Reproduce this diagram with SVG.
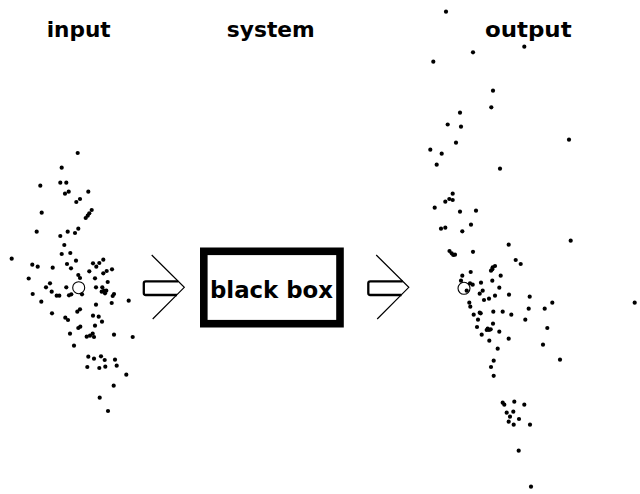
<svg xmlns="http://www.w3.org/2000/svg" width="640" height="494" viewBox="0 0 640 494">
<style>
.t{font-family:"DejaVu Sans","Liberation Sans",sans-serif;font-weight:bold;font-size:22px;fill:#000;text-anchor:middle}
.d circle{fill:#000}
.o{fill:none;stroke:#000;stroke-width:1.1}
.bar{fill:none;stroke:#000;stroke-width:2.3;stroke-linejoin:round}
.chev{fill:none;stroke:#000;stroke-width:1.2}
</style>
<rect width="640" height="494" fill="#fff"/>
<g id="input">
<text class="t" x="78.7" y="36.7" textLength="64" lengthAdjust="spacingAndGlyphs">input</text>
<g class="d">
<circle cx="77.7" cy="153" r="2.1"/><circle cx="61.7" cy="167.7" r="2.1"/><circle cx="40.3" cy="185.7" r="2.1"/><circle cx="60.3" cy="182.7" r="2.1"/><circle cx="66.3" cy="182.7" r="2.1"/><circle cx="65" cy="193.7" r="2.1"/><circle cx="68.7" cy="191.7" r="2.1"/><circle cx="88.3" cy="191.7" r="2.1"/><circle cx="76.3" cy="202" r="2.1"/><circle cx="80" cy="199" r="2.1"/><circle cx="41.7" cy="212.7" r="2.1"/><circle cx="91.7" cy="210" r="2.1"/><circle cx="89.3" cy="213.3" r="2.1"/><circle cx="87.7" cy="215.7" r="2.1"/><circle cx="85.7" cy="218" r="2.1"/><circle cx="36.7" cy="231.7" r="2.1"/><circle cx="67.7" cy="231.7" r="2.1"/><circle cx="60.3" cy="236" r="2.1"/><circle cx="78.3" cy="228.7" r="2.1"/><circle cx="75" cy="233" r="2.1"/><circle cx="64.3" cy="245" r="2.1"/><circle cx="61.7" cy="254" r="2.1"/><circle cx="70.3" cy="253" r="2.1"/><circle cx="11.7" cy="258.7" r="2.1"/><circle cx="32.3" cy="264.7" r="2.1"/><circle cx="37.7" cy="266.7" r="2.1"/><circle cx="52.7" cy="267.7" r="2.1"/><circle cx="67" cy="264" r="2.1"/><circle cx="76" cy="260.7" r="2.1"/><circle cx="71" cy="268.3" r="2.1"/><circle cx="93" cy="263.3" r="2.1"/><circle cx="96.3" cy="266.7" r="2.1"/><circle cx="99.3" cy="263" r="2.1"/><circle cx="103.3" cy="259.7" r="2.1"/><circle cx="89.3" cy="271.3" r="2.1"/><circle cx="78.3" cy="275" r="2.1"/><circle cx="80" cy="278" r="2.1"/><circle cx="95" cy="278.3" r="2.1"/><circle cx="106.7" cy="271" r="2.1"/><circle cx="103.3" cy="273.3" r="2.1"/><circle cx="112" cy="269.3" r="2.1"/><circle cx="28.7" cy="278.5" r="2.1"/>
<circle cx="50" cy="283.3" r="2.1"/><circle cx="46" cy="287.3" r="2.1"/><circle cx="66.3" cy="287.3" r="2.1"/><circle cx="32.7" cy="294" r="2.1"/><circle cx="51.7" cy="291.7" r="2.1"/><circle cx="56.7" cy="295.7" r="2.1"/><circle cx="59.3" cy="295.7" r="2.1"/><circle cx="69" cy="295.3" r="2.1"/><circle cx="71.3" cy="294.3" r="2.1"/><circle cx="82" cy="294.3" r="2.1"/><circle cx="41.3" cy="301.7" r="2.1"/><circle cx="96" cy="287.3" r="2.1"/><circle cx="102.3" cy="287.3" r="2.1"/><circle cx="107.7" cy="282" r="2.1"/><circle cx="101.7" cy="291.7" r="2.1"/><circle cx="105" cy="293.3" r="2.1"/><circle cx="104" cy="290.7" r="2.1"/><circle cx="106.3" cy="290.7" r="2.1"/><circle cx="114" cy="294" r="2.1"/><circle cx="112.7" cy="296" r="2.1"/><circle cx="128.7" cy="300.7" r="2.1"/><circle cx="111.7" cy="303" r="2.1"/><circle cx="96" cy="304.7" r="2.1"/><circle cx="52" cy="313.3" r="2.1"/><circle cx="65.3" cy="317.7" r="2.1"/><circle cx="68" cy="320" r="2.1"/><circle cx="77.3" cy="311.7" r="2.1"/><circle cx="80" cy="309.3" r="2.1"/><circle cx="93" cy="315.7" r="2.1"/><circle cx="98.7" cy="316.7" r="2.1"/><circle cx="102" cy="321.7" r="2.1"/><circle cx="95" cy="325.7" r="2.1"/><circle cx="78.3" cy="328" r="2.1"/><circle cx="80.3" cy="326.7" r="2.1"/><circle cx="70" cy="333.7" r="2.1"/><circle cx="86.7" cy="336.7" r="2.1"/><circle cx="90" cy="335.7" r="2.1"/><circle cx="92.7" cy="333.7" r="2.1"/><circle cx="94" cy="337" r="2.1"/><circle cx="114" cy="334.7" r="2.1"/><circle cx="132.7" cy="337" r="2.1"/><circle cx="74" cy="345.7" r="2.1"/><circle cx="88.3" cy="356.7" r="2.1"/><circle cx="94" cy="358.7" r="2.1"/><circle cx="101" cy="356.3" r="2.1"/><circle cx="104.7" cy="360" r="2.1"/><circle cx="115" cy="359.7" r="2.1"/><circle cx="87.3" cy="367" r="2.1"/><circle cx="99.3" cy="368" r="2.1"/><circle cx="105.3" cy="366.7" r="2.1"/><circle cx="116.7" cy="365.7" r="2.1"/><circle cx="126.3" cy="374.7" r="2.1"/><circle cx="113.7" cy="385.7" r="2.1"/><circle cx="99.7" cy="397.7" r="2.1"/><circle cx="108" cy="411" r="2.1"/>
</g>
<circle class="o" cx="78.7" cy="287.7" r="6"/>
</g>
<g id="system">
<text class="t" x="270.8" y="36.7" textLength="88" lengthAdjust="spacingAndGlyphs">system</text>
<rect x="203.8" y="251.3" width="136.2" height="72.4" fill="none" stroke="#000" stroke-width="7.6"/>
<text class="t" x="271.5" y="297.7" font-size="23" textLength="123" lengthAdjust="spacingAndGlyphs" style="font-size:23px">black box</text>
</g>
<g id="output">
<text class="t" x="528.3" y="36.7" textLength="86.7" lengthAdjust="spacingAndGlyphs">output</text>
<g class="d">
<circle cx="446" cy="11.7" r="2.1"/><circle cx="524.3" cy="46.7" r="2.1"/><circle cx="473" cy="52.3" r="2.1"/><circle cx="433.3" cy="61.7" r="2.1"/><circle cx="493" cy="90.7" r="2.1"/><circle cx="491.3" cy="107.3" r="2.1"/><circle cx="460" cy="112.7" r="2.1"/><circle cx="447.7" cy="124.5" r="2.1"/><circle cx="461" cy="126.7" r="2.1"/>
<circle cx="456" cy="142.7" r="2.1"/><circle cx="430.3" cy="149.7" r="2.1"/><circle cx="441.7" cy="153.7" r="2.1"/><circle cx="436.7" cy="164.7" r="2.1"/><circle cx="569" cy="139.7" r="2.1"/><circle cx="500" cy="168.7" r="2.1"/><circle cx="452.7" cy="193.7" r="2.1"/><circle cx="445.3" cy="201.7" r="2.1"/><circle cx="449.3" cy="199" r="2.1"/><circle cx="452.7" cy="200" r="2.1"/><circle cx="434.7" cy="207.7" r="2.1"/><circle cx="460" cy="211.7" r="2.1"/><circle cx="476" cy="210.7" r="2.1"/><circle cx="441" cy="228.7" r="2.1"/><circle cx="445.3" cy="227.7" r="2.1"/><circle cx="471" cy="224.7" r="2.1"/><circle cx="462.3" cy="231.3" r="2.1"/><circle cx="508.7" cy="244.7" r="2.1"/><circle cx="570.7" cy="240.7" r="2.1"/><circle cx="449.5" cy="251" r="2.1"/><circle cx="451.7" cy="253.3" r="2.1"/><circle cx="453.3" cy="255" r="2.1"/><circle cx="455" cy="254.7" r="2.1"/><circle cx="473" cy="251.8" r="2.1"/><circle cx="515.7" cy="260" r="2.1"/>
<circle cx="520.7" cy="264" r="2.1"/><circle cx="492.7" cy="267.3" r="2.1"/><circle cx="495" cy="266" r="2.1"/><circle cx="491" cy="270.7" r="2.1"/><circle cx="492.3" cy="269.3" r="2.1"/><circle cx="470.7" cy="272" r="2.1"/><circle cx="462.3" cy="275.7" r="2.1"/><circle cx="500.7" cy="275.7" r="2.1"/><circle cx="461" cy="280.7" r="2.1"/><circle cx="470" cy="283.3" r="2.1"/><circle cx="472.7" cy="284.7" r="2.1"/><circle cx="481" cy="282.7" r="2.1"/><circle cx="492.3" cy="280.7" r="2.1"/><circle cx="499.3" cy="287.7" r="2.1"/><circle cx="466.7" cy="290.7" r="2.1"/><circle cx="479.7" cy="293.7" r="2.1"/><circle cx="482.7" cy="290.7" r="2.1"/><circle cx="495" cy="295.7" r="2.1"/><circle cx="509" cy="294.7" r="2.1"/><circle cx="529.7" cy="296.7" r="2.1"/><circle cx="484" cy="300" r="2.1"/><circle cx="489" cy="298.7" r="2.1"/><circle cx="469.3" cy="302.7" r="2.1"/><circle cx="470.3" cy="306.7" r="2.1"/><circle cx="552.3" cy="302.7" r="2.1"/><circle cx="634.7" cy="302.7" r="2.1"/><circle cx="479.7" cy="312.7" r="2.1"/><circle cx="480.7" cy="313.3" r="2.1"/><circle cx="473.7" cy="314.7" r="2.1"/><circle cx="493.3" cy="311.7" r="2.1"/><circle cx="502.7" cy="311.7" r="2.1"/><circle cx="511.3" cy="314.7" r="2.1"/><circle cx="528.7" cy="308.7" r="2.1"/><circle cx="544.7" cy="308.7" r="2.1"/><circle cx="478" cy="319.7" r="2.1"/><circle cx="525.3" cy="319.7" r="2.1"/><circle cx="493" cy="323.7" r="2.1"/><circle cx="477" cy="327" r="2.1"/><circle cx="487.7" cy="328.7" r="2.1"/><circle cx="489" cy="330" r="2.1"/><circle cx="486.7" cy="330" r="2.1"/><circle cx="490.7" cy="329.3" r="2.1"/><circle cx="499.3" cy="331.7" r="2.1"/><circle cx="547.3" cy="328" r="2.1"/><circle cx="481.7" cy="334.7" r="2.1"/><circle cx="489.3" cy="340.7" r="2.1"/><circle cx="508.7" cy="338.7" r="2.1"/><circle cx="497.7" cy="348.7" r="2.1"/><circle cx="543" cy="344.7" r="2.1"/><circle cx="560" cy="359.7" r="2.1"/><circle cx="493.7" cy="360.7" r="2.1"/><circle cx="491" cy="367" r="2.1"/><circle cx="493.7" cy="375.8" r="2.1"/>
<circle cx="502.7" cy="402.7" r="2.1"/><circle cx="504.3" cy="404.7" r="2.1"/><circle cx="514.3" cy="401.7" r="2.1"/><circle cx="524.3" cy="404.7" r="2.1"/><circle cx="506.7" cy="412.7" r="2.1"/><circle cx="510" cy="416.7" r="2.1"/><circle cx="513.3" cy="411.7" r="2.1"/><circle cx="519" cy="419" r="2.1"/><circle cx="508.7" cy="421.7" r="2.1"/><circle cx="513.7" cy="424.7" r="2.1"/><circle cx="530" cy="424.7" r="2.1"/><circle cx="518.7" cy="450.7" r="2.1"/><circle cx="531" cy="486.7" r="2.1"/>
</g>
<circle class="o" cx="464" cy="288.3" r="6"/>
</g>
<g id="connectors">
<g id="arrow-in">
<path class="bar" d="M178.2,281.3 H145.8 Q143.8,281.3 143.8,283.3 V293 Q143.8,295 145.8,295 H177"/>
<polyline class="chev" points="151.7,255 184.3,287.3 152.7,319"/>
</g>
<g id="arrow-out" transform="translate(224.5,0)">
<path class="bar" d="M178.2,281.3 H145.8 Q143.8,281.3 143.8,283.3 V293 Q143.8,295 145.8,295 H177"/>
<polyline class="chev" points="151.7,255 184.3,287.3 152.7,319"/>
</g>
</g>
</svg>
